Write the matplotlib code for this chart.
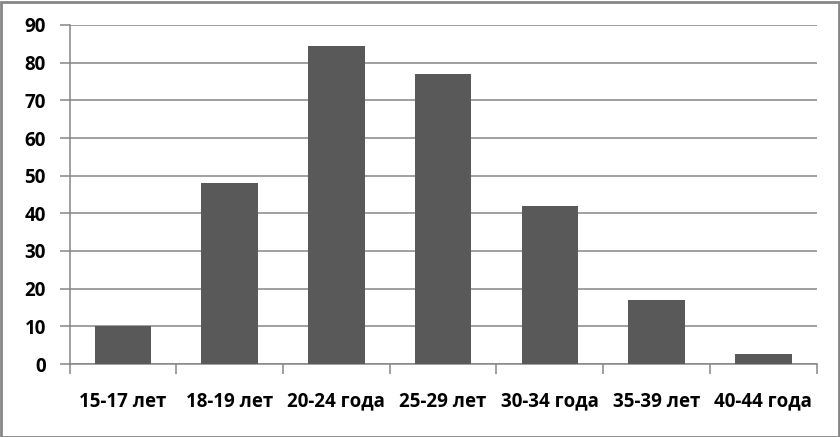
import matplotlib
matplotlib.use("Agg")
import matplotlib.pyplot as plt
from matplotlib.patches import Rectangle
import numpy as np

categories = ["15-17 лет", "18-19 лет", "20-24 года", "25-29 лет", "30-34 года", "35-39 лет", "40-44 года"]
values = [10, 48, 84.5, 77, 42, 17, 2.7]
yticks = [0, 10, 20, 30, 40, 50, 60, 70, 80, 90]

plt.rcParams['font.family'] = ['Open Sans', 'DejaVu Sans']
plt.rcParams['font.weight'] = 'bold'

W, H = 840, 437
fig = plt.figure(figsize=(W/100, H/100), dpi=100)
ax = fig.add_axes([69.5/W, 1-364/H, (816.7-69.5)/W, (364-25)/H])

grid_c = '#868686'
x = np.arange(len(categories))
ax.bar(x, values, width=0.53, color='#595959', zorder=3)
ax.set_xlim(-0.5, len(categories)-0.5)
ax.set_ylim(0, 90)
ax.set_yticks(yticks)
ax.yaxis.grid(True, color=grid_c, linewidth=1.1, zorder=0)
ax.set_axisbelow(True)

for s in ['top', 'right']:
    ax.spines[s].set_visible(False)
for s in ['left', 'bottom']:
    ax.spines[s].set_color(grid_c)
    ax.spines[s].set_linewidth(1.1)

ax.set_xticks(x)
ax.set_xticklabels(categories, fontsize=13.5, fontweight='bold')
ax.set_xticks(np.arange(-0.5, len(categories), 1), minor=True)
ax.tick_params(axis='x', which='major', length=0, pad=20)
ax.tick_params(axis='x', which='minor', length=7, width=1.1, color=grid_c, direction='out')
ax.tick_params(axis='y', length=7, width=1.1, color=grid_c, pad=10, labelsize=13.5)
for lbl in ax.get_yticklabels():
    lbl.set_fontweight('bold')

fig.patches.append(Rectangle((0.5/W, 0.5/H), 1-2/W, 1-2/H, transform=fig.transFigure,
                             fill=False, edgecolor=grid_c, linewidth=2))

fig.savefig("out.png", dpi=100)
